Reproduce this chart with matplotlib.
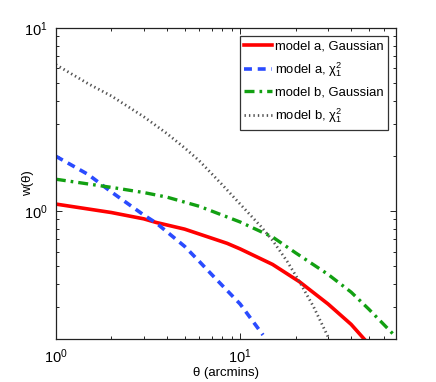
import matplotlib
matplotlib.use('Agg')
import matplotlib.pyplot as plt
import numpy as np

plt.rcParams['font.family'] = ['Liberation Sans', 'DejaVu Sans']
plt.rcParams['mathtext.fontset'] = 'custom'
plt.rcParams['mathtext.rm'] = 'Liberation Sans'
plt.rcParams['mathtext.it'] = 'Liberation Sans:italic'
plt.rcParams['mathtext.default'] = 'regular'

# model a, Gaussian
theta_a_gauss = [1, 2, 3, 3.5, 5, 7, 8.5, 10, 15, 21, 30, 40, 47]
w_a_gauss = [1.09, 0.98, 0.905, 0.865, 0.795, 0.71, 0.665, 0.62, 0.51, 0.41, 0.31, 0.24, 0.20]

# model a, chi^2_1
theta_a_chi = [1, 1.5, 2, 3, 3.5, 5, 6, 7, 10, 13.3]
w_a_chi = [1.99, 1.58, 1.27, 0.95, 0.86, 0.64, 0.53, 0.45, 0.31, 0.21]

# model b, Gaussian
theta_b_gauss = [1, 2, 3, 4, 6, 10, 15, 20, 30, 40, 50, 70]
w_b_gauss = [1.49, 1.345, 1.26, 1.19, 1.06, 0.87, 0.72, 0.59, 0.45, 0.36, 0.29, 0.205]

# model b, chi^2_1
theta_b_chi = [1, 1.5, 2, 3, 4, 5, 6, 8, 10, 13, 15, 18, 21, 25, 30]
w_b_chi = [6.3, 4.95, 4.25, 3.27, 2.65, 2.21, 1.88, 1.39, 1.09, 0.82, 0.69, 0.53, 0.41, 0.30, 0.205]

fig = plt.figure(figsize=(4.36, 3.82), dpi=100)
ax = fig.add_axes([0.128, 0.113, 0.78, 0.814])

ax.plot(theta_a_gauss, w_a_gauss, color='#ff0000', lw=2.6, label='model a, Gaussian')
ax.plot(theta_a_chi, w_a_chi, color='#2a4bff', lw=2.6, ls=(0, (2.2, 1.6)),
        label=r'model a, $\chi_1^2$')
ax.plot(theta_b_gauss, w_b_gauss, color='#12a012', lw=2.4, ls=(0, (3, 1.5, 0.8, 1.5)),
        label='model b, Gaussian')
ax.plot(theta_b_chi, w_b_chi, color='#555555', lw=2.0, ls=(0, (0.5, 1.1)),
        label=r'model b, $\chi_1^2$')

ax.set_xscale('log')
ax.set_yscale('log')
ax.set_xlim(1, 70)
ax.set_ylim(0.2, 10)

ax.tick_params(which='both', direction='in', top=True, right=True, labelsize=10.5)
ax.tick_params(which='major', length=4, width=0.6, pad=6)
ax.tick_params(which='minor', length=2.5, width=0.6)
for s in ax.spines.values():
    s.set_linewidth(0.9)
    s.set_color('#222222')

ax.set_xlabel(r'θ (arcmins)', fontsize=9.5, labelpad=1)
ax.set_ylabel(r'w(θ)', fontsize=9.5)
ax.yaxis.set_label_coords(-0.065, 0.5)

leg = ax.legend(loc='upper right', fontsize=9.4, frameon=True, fancybox=False,
                edgecolor='black', handlelength=2.1, handletextpad=0.25,
                borderpad=0.35, labelspacing=0.6, borderaxespad=0.6)
leg.get_frame().set_linewidth(0.9)

fig.savefig('out.png', dpi=100)
